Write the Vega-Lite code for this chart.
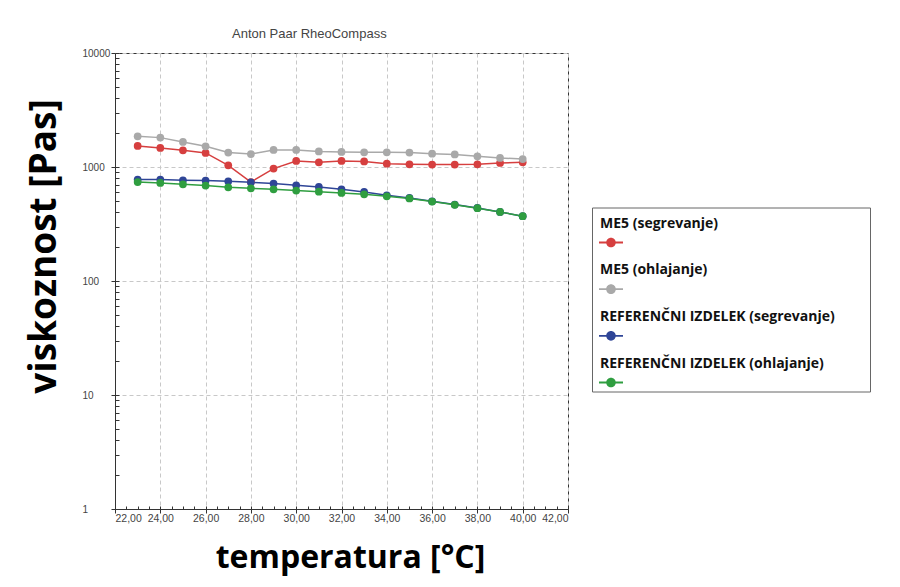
{
  "$schema": "https://vega.github.io/schema/vega-lite/v6.json",
  "width": 453,
  "height": 456,
  "autosize": "none",
  "padding": {"left": 115, "top": 53, "right": 332, "bottom": 78},
  "background": "white",
  "config": {
    "view": {"stroke": "#333", "strokeWidth": 1},
    "font": "Liberation Sans"
  },
  "title": {
    "text": "Anton Paar RheoCompass",
    "anchor": "start",
    "frame": "group",
    "dx": 117,
    "dy": 18,
    "offset": 15,
    "baseline": "alphabetic",
    "font": "Liberation Sans",
    "fontSize": 13,
    "fontWeight": "normal",
    "color": "#444"
  },
  "data": {
    "values": [
      {"T": 23, "s": "ME5 (segrevanje)", "eta": 1530},
      {"T": 24, "s": "ME5 (segrevanje)", "eta": 1470},
      {"T": 25, "s": "ME5 (segrevanje)", "eta": 1400},
      {"T": 26, "s": "ME5 (segrevanje)", "eta": 1330},
      {"T": 27, "s": "ME5 (segrevanje)", "eta": 1035},
      {"T": 28, "s": "ME5 (segrevanje)", "eta": 738},
      {"T": 29, "s": "ME5 (segrevanje)", "eta": 968},
      {"T": 30, "s": "ME5 (segrevanje)", "eta": 1130},
      {"T": 31, "s": "ME5 (segrevanje)", "eta": 1100},
      {"T": 32, "s": "ME5 (segrevanje)", "eta": 1130},
      {"T": 33, "s": "ME5 (segrevanje)", "eta": 1120},
      {"T": 34, "s": "ME5 (segrevanje)", "eta": 1070},
      {"T": 35, "s": "ME5 (segrevanje)", "eta": 1055},
      {"T": 36, "s": "ME5 (segrevanje)", "eta": 1050},
      {"T": 37, "s": "ME5 (segrevanje)", "eta": 1050},
      {"T": 38, "s": "ME5 (segrevanje)", "eta": 1055},
      {"T": 39, "s": "ME5 (segrevanje)", "eta": 1085},
      {"T": 40, "s": "ME5 (segrevanje)", "eta": 1100},
      {"T": 23, "s": "ME5 (ohlajanje)", "eta": 1860},
      {"T": 24, "s": "ME5 (ohlajanje)", "eta": 1810},
      {"T": 25, "s": "ME5 (ohlajanje)", "eta": 1660},
      {"T": 26, "s": "ME5 (ohlajanje)", "eta": 1520},
      {"T": 27, "s": "ME5 (ohlajanje)", "eta": 1340},
      {"T": 28, "s": "ME5 (ohlajanje)", "eta": 1300},
      {"T": 29, "s": "ME5 (ohlajanje)", "eta": 1410},
      {"T": 30, "s": "ME5 (ohlajanje)", "eta": 1410},
      {"T": 31, "s": "ME5 (ohlajanje)", "eta": 1370},
      {"T": 32, "s": "ME5 (ohlajanje)", "eta": 1355},
      {"T": 33, "s": "ME5 (ohlajanje)", "eta": 1345},
      {"T": 34, "s": "ME5 (ohlajanje)", "eta": 1345},
      {"T": 35, "s": "ME5 (ohlajanje)", "eta": 1340},
      {"T": 36, "s": "ME5 (ohlajanje)", "eta": 1310},
      {"T": 37, "s": "ME5 (ohlajanje)", "eta": 1290},
      {"T": 38, "s": "ME5 (ohlajanje)", "eta": 1240},
      {"T": 39, "s": "ME5 (ohlajanje)", "eta": 1200},
      {"T": 40, "s": "ME5 (ohlajanje)", "eta": 1175},
      {"T": 23, "s": "REFERENČNI IZDELEK (segrevanje)", "eta": 775},
      {"T": 24, "s": "REFERENČNI IZDELEK (segrevanje)", "eta": 775},
      {"T": 25, "s": "REFERENČNI IZDELEK (segrevanje)", "eta": 764},
      {"T": 26, "s": "REFERENČNI IZDELEK (segrevanje)", "eta": 760},
      {"T": 27, "s": "REFERENČNI IZDELEK (segrevanje)", "eta": 749},
      {"T": 28, "s": "REFERENČNI IZDELEK (segrevanje)", "eta": 734},
      {"T": 29, "s": "REFERENČNI IZDELEK (segrevanje)", "eta": 715},
      {"T": 30, "s": "REFERENČNI IZDELEK (segrevanje)", "eta": 691},
      {"T": 31, "s": "REFERENČNI IZDELEK (segrevanje)", "eta": 668},
      {"T": 32, "s": "REFERENČNI IZDELEK (segrevanje)", "eta": 637},
      {"T": 33, "s": "REFERENČNI IZDELEK (segrevanje)", "eta": 604},
      {"T": 34, "s": "REFERENČNI IZDELEK (segrevanje)", "eta": 565},
      {"T": 35, "s": "REFERENČNI IZDELEK (segrevanje)", "eta": 535},
      {"T": 36, "s": "REFERENČNI IZDELEK (segrevanje)", "eta": 500},
      {"T": 37, "s": "REFERENČNI IZDELEK (segrevanje)", "eta": 468},
      {"T": 38, "s": "REFERENČNI IZDELEK (segrevanje)", "eta": 437},
      {"T": 39, "s": "REFERENČNI IZDELEK (segrevanje)", "eta": 403},
      {"T": 40, "s": "REFERENČNI IZDELEK (segrevanje)", "eta": 370},
      {"T": 23, "s": "REFERENČNI IZDELEK (ohlajanje)", "eta": 738},
      {"T": 24, "s": "REFERENČNI IZDELEK (ohlajanje)", "eta": 724},
      {"T": 25, "s": "REFERENČNI IZDELEK (ohlajanje)", "eta": 705},
      {"T": 26, "s": "REFERENČNI IZDELEK (ohlajanje)", "eta": 687},
      {"T": 27, "s": "REFERENČNI IZDELEK (ohlajanje)", "eta": 664},
      {"T": 28, "s": "REFERENČNI IZDELEK (ohlajanje)", "eta": 650},
      {"T": 29, "s": "REFERENČNI IZDELEK (ohlajanje)", "eta": 637},
      {"T": 30, "s": "REFERENČNI IZDELEK (ohlajanje)", "eta": 621},
      {"T": 31, "s": "REFERENČNI IZDELEK (ohlajanje)", "eta": 608},
      {"T": 32, "s": "REFERENČNI IZDELEK (ohlajanje)", "eta": 592},
      {"T": 33, "s": "REFERENČNI IZDELEK (ohlajanje)", "eta": 576},
      {"T": 34, "s": "REFERENČNI IZDELEK (ohlajanje)", "eta": 553},
      {"T": 35, "s": "REFERENČNI IZDELEK (ohlajanje)", "eta": 530},
      {"T": 36, "s": "REFERENČNI IZDELEK (ohlajanje)", "eta": 498},
      {"T": 37, "s": "REFERENČNI IZDELEK (ohlajanje)", "eta": 466},
      {"T": 38, "s": "REFERENČNI IZDELEK (ohlajanje)", "eta": 435},
      {"T": 39, "s": "REFERENČNI IZDELEK (ohlajanje)", "eta": 403},
      {"T": 40, "s": "REFERENČNI IZDELEK (ohlajanje)", "eta": 370}
    ]
  },
  "layer": [
    {
      "mark": {"type": "line", "strokeWidth": 1.5},
      "encoding": {
        "stroke": {
          "field": "s",
          "type": "nominal",
          "sort": null,
          "scale": {
            "domain": ["ME5 (ohlajanje)", "ME5 (segrevanje)", "REFERENČNI IZDELEK (ohlajanje)", "REFERENČNI IZDELEK (segrevanje)"],
            "range": ["#a9a9a9", "#d63f3f", "#2f9e40", "#2f4597"]
          },
          "legend": null
        },
        "x": {
          "field": "T",
          "type": "quantitative",
          "scale": {"domain": [22, 42], "nice": false, "zero": false},
          "axis": {
            "orient": "bottom",
            "values": [22, 24, 26, 28, 30, 32, 34, 36, 38, 40, 42],
            "labelExpr": "replace(format(datum.value, '.2f'), '.', ',')",
            "labelFont": "Liberation Sans",
            "labelFontSize": 10.5,
            "labelColor": "#444",
            "labelPadding": 0,
            "tickSize": 4,
            "tickColor": "#333",
            "domainColor": "#333",
            "grid": true,
            "gridDash": [4, 3],
            "gridColor": "#c8c8c8",
            "title": "temperatura [°C]",
            "titleFont": "Open Sans",
            "titleFontSize": 32,
            "titleFontWeight": "bold",
            "titleColor": "#000",
            "titleX": 235,
            "titleY": 58,
            "titleBaseline": "alphabetic",
            "titleAlign": "center"
          }
        },
        "y": {
          "field": "eta",
          "type": "quantitative",
          "scale": {"type": "log", "domain": [1, 10000], "nice": false},
          "axis": {
            "orient": "left",
            "values": [1, 10, 100, 1000, 10000],
            "labelExpr": "format(datum.value, 'd')",
            "labelFont": "Liberation Sans",
            "labelFontSize": 10,
            "labelColor": "#444",
            "labelAlign": "left",
            "labelBaseline": "middle",
            "labelPadding": 29,
            "tickSize": 4,
            "tickColor": "#333",
            "domainColor": "#333",
            "grid": true,
            "gridDash": [4, 3],
            "gridColor": "#c8c8c8",
            "title": "viskoznost [Pas]",
            "titleFont": "Open Sans",
            "titleFontSize": 37,
            "titleFontWeight": "bold",
            "titleColor": "#000",
            "titleAngle": 270,
            "titleX": -60,
            "titleY": 193,
            "titleBaseline": "alphabetic",
            "titleAlign": "center"
          }
        }
      }
    },
    {
      "mark": {"type": "point", "filled": true, "size": 60, "opacity": 1},
      "encoding": {
        "color": {
          "field": "s",
          "type": "nominal",
          "sort": null,
          "scale": {
            "domain": ["ME5 (segrevanje)", "ME5 (ohlajanje)", "REFERENČNI IZDELEK (segrevanje)", "REFERENČNI IZDELEK (ohlajanje)"],
            "range": ["#d63f3f", "#a9a9a9", "#2f4597", "#2f9e40"]
          },
          "legend": {
            "orient": "none",
            "legendX": 477,
            "legendY": 154.5,
            "title": null,
            "padding": 4,
            "strokeColor": "#666",
            "fillColor": "white",
            "symbolType": "M-1,1.5H1V1.66H-1ZM0.4,1.58A0.4,0.4,0,1,1,-0.4,1.58A0.4,0.4,0,1,1,0.4,1.58ZM21.2,1.58",
            "symbolSize": 576,
            "symbolStrokeWidth": 0,
            "symbolOffset": 3,
            "labelOffset": -23,
            "labelFont": "Open Sans",
            "labelFontSize": 14,
            "labelFontWeight": "bold",
            "labelColor": "#111",
            "labelLimit": 0,
            "labelBaseline": "middle",
            "rowPadding": 10.7
          }
        },
        "x": {
          "field": "T",
          "type": "quantitative",
          "axis": {
            "orient": "bottom",
            "values": [22, 22.5, 23, 23.5, 24, 24.5, 25, 25.5, 26, 26.5, 27, 27.5, 28, 28.5, 29, 29.5, 30, 30.5, 31, 31.5, 32, 32.5, 33, 33.5, 34, 34.5, 35, 35.5, 36, 36.5, 37, 37.5, 38, 38.5, 39, 39.5, 40, 40.5, 41, 41.5, 42],
            "labels": false,
            "domain": false,
            "grid": false,
            "tickSize": -3,
            "tickColor": "#333",
            "title": null
          }
        },
        "y": {
          "field": "eta",
          "type": "quantitative",
          "axis": {
            "orient": "left",
            "values": [1, 2, 3, 4, 5, 6, 7, 8, 9, 10, 20, 30, 40, 50, 60, 70, 80, 90, 100, 200, 300, 400, 500, 600, 700, 800, 900, 1000, 2000, 3000, 4000, 5000, 6000, 7000, 8000, 9000, 10000],
            "labels": false,
            "domain": false,
            "grid": false,
            "tickSize": -4,
            "tickColor": "#333",
            "title": null
          }
        }
      }
    }
  ],
  "resolve": {"axis": {"x": "independent", "y": "independent"}}
}
